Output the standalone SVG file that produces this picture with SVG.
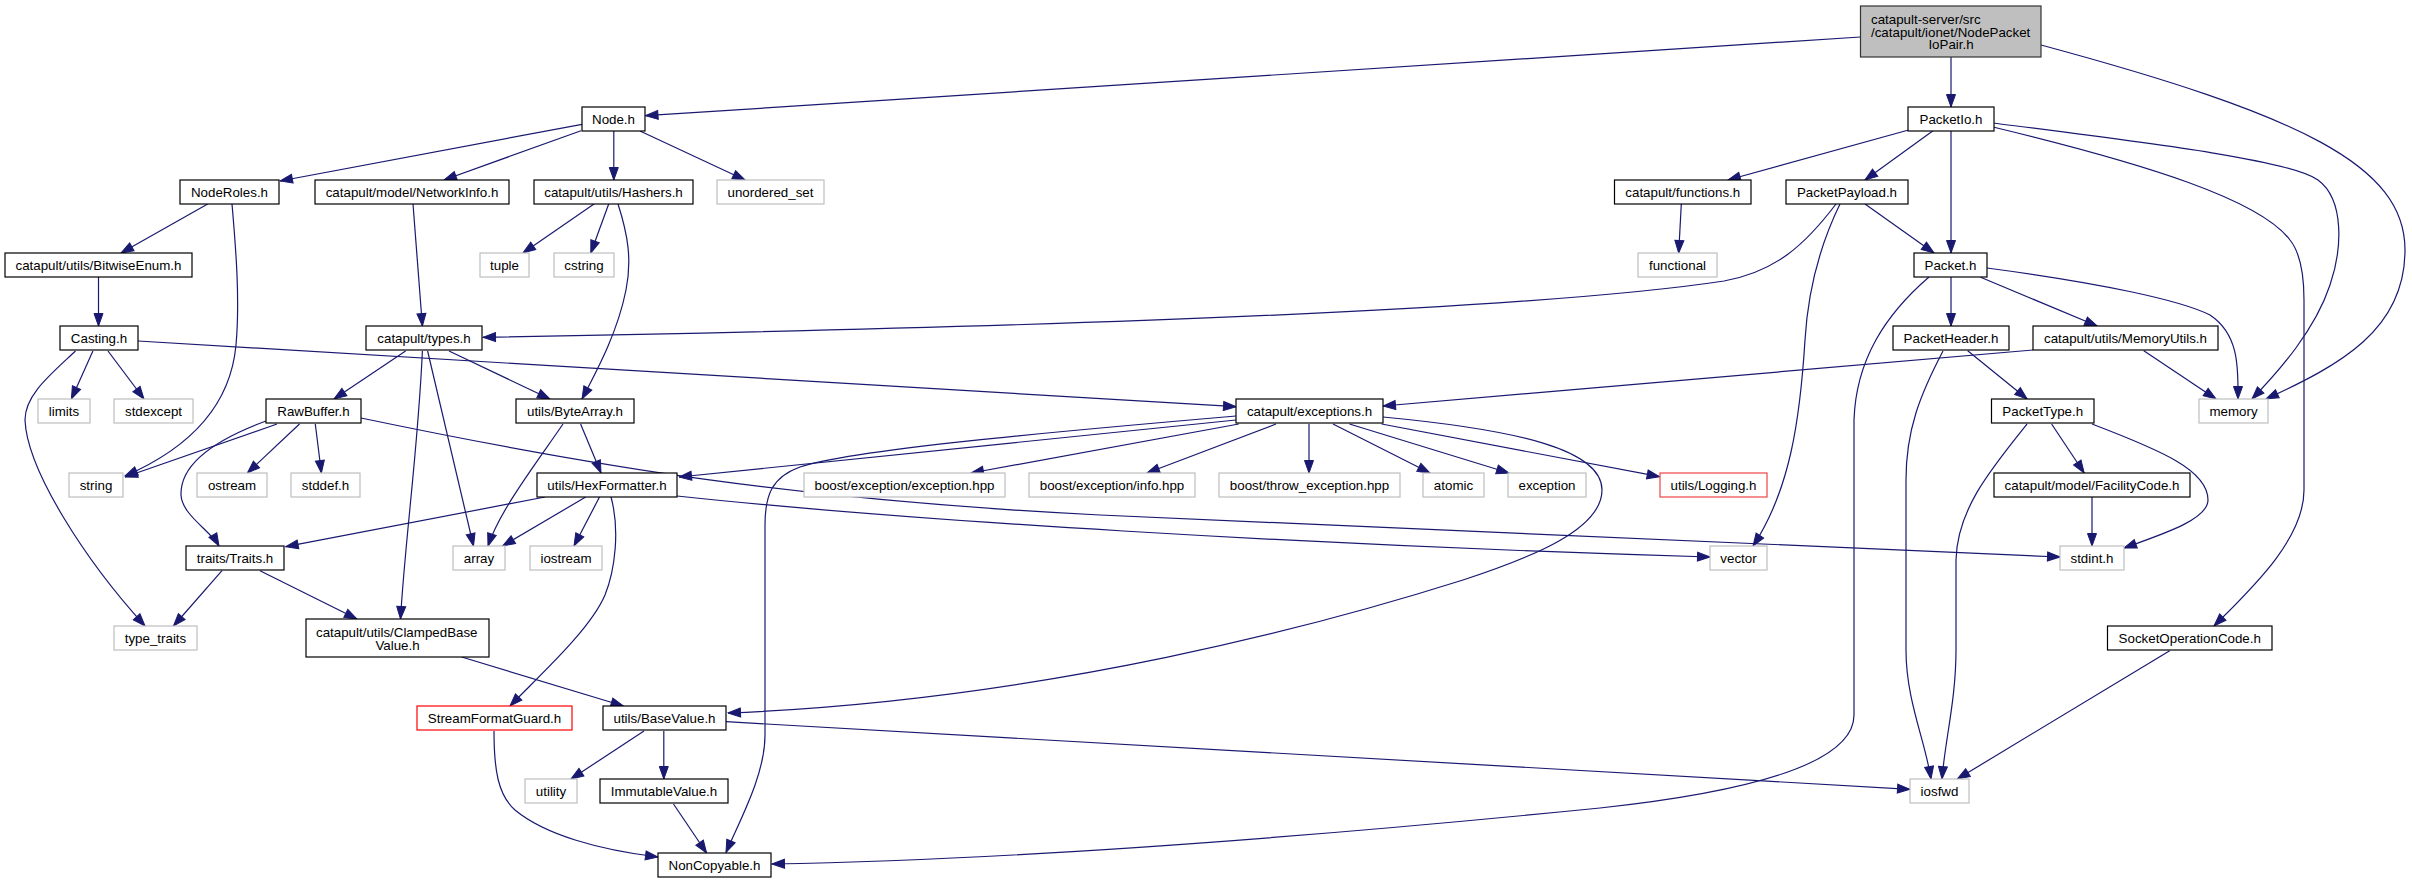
<svg xmlns="http://www.w3.org/2000/svg" width="2412" height="883" viewBox="0 0 2412 883">
<defs>
<marker id="ah" markerUnits="userSpaceOnUse" markerWidth="14" markerHeight="11" viewBox="0 0 14 11" refX="13.5" refY="5.5" orient="auto"><path d="M1,1 L13.5,5.5 L1,10 z" fill="#191970" stroke="#191970" stroke-width="1"/></marker>
</defs>
<style>
rect{fill:#ffffff;stroke:#000000;stroke-width:1.2}
.g rect{stroke:#bfbfbf}
.r rect{stroke:#ff0000}
.rl rect{stroke:#ee4444}
.m rect{fill:#bfbfbf;stroke:#333333}
text{font-family:"Liberation Sans",Arial,Helvetica,sans-serif;font-size:13.33px;fill:#000000;text-anchor:middle}
text.l{text-anchor:start}
#edges path{fill:none;stroke:#191970;stroke-width:1.2;marker-end:url(#ah)}
</style>
<rect x="0" y="0" width="2412" height="883" style="fill:#ffffff;stroke:none"/>
<g id="edges">
<path d="M1860.5,37 L645.5,115.7"/>
<path d="M1951,57 L1951,107"/>
<path d="M2041,45 C2300,115 2405,165 2405,250 C2405,330 2340,365 2266,399"/>
<path d="M582,124.3 L280,181"/>
<path d="M581,130.7 L444,180"/>
<path d="M613.8,130 L613.8,180"/>
<path d="M640,131 L745,180"/>
<path d="M207.7,204 L121,253"/>
<path d="M232,204 C236,250 240,300 236,345 C230,410 185,450 125,476"/>
<path d="M98.5,277 L98.5,326"/>
<path d="M413,204 L422.4,326"/>
<path d="M594,204 L523,253"/>
<path d="M608.7,204 L590.8,253"/>
<path d="M618,204 C628,235 632,260 626,290 C618,330 600,365 582,399"/>
<path d="M138,341 L1236,406.7"/>
<path d="M92.9,351 L71.4,399"/>
<path d="M108,351 L144,399"/>
<path d="M75.5,351 C50,375 25,395 25,420 C27,470 85,560 145,626"/>
<path d="M405.6,351 L334,399"/>
<path d="M449,351 L550,399"/>
<path d="M427.6,351 L473.5,546"/>
<path d="M422.4,351 C418,450 405,540 400.5,619"/>
<path d="M277,424 L125,477"/>
<path d="M299.5,424 L247.4,473"/>
<path d="M315.3,424 L321.4,473"/>
<path d="M266,421 C220,438 180,462 181,495 C182,515 210,530 219,546"/>
<path d="M361,418 C600,468 800,500 1100,515 C1500,535 1800,548 2060,557"/>
<path d="M563,424 C535,465 500,510 488,546"/>
<path d="M580.6,424 L601,473"/>
<path d="M545,497 L285.7,546.7"/>
<path d="M585.7,497 L502.6,546"/>
<path d="M599.5,497 L574,546"/>
<path d="M611,497 C620,530 615,570 605,595 C590,630 540,675 510,706"/>
<path d="M677,496 C900,520 1300,545 1710,557"/>
<path d="M222,570.7 L173.5,626"/>
<path d="M260,570.7 L357,619"/>
<path d="M461.7,657 L623.5,706"/>
<path d="M494,731 C494,770 498,795 515,810 C545,835 600,850 658,857"/>
<path d="M644,731 L571,779"/>
<path d="M663.8,731 L663.8,779"/>
<path d="M726,721.7 L1910,789.3"/>
<path d="M673.5,804 L706.6,853"/>
<path d="M1383,417 C1520,430 1602,450 1602,490 C1602,530 1530,558 1463,580 C1330,622 1050,700 728,713"/>
<path d="M1236,420 L679,477"/>
<path d="M1236,416 C1050,432 850,450 800,467 C772,477 765,495 765,525 L765,735 C765,775 740,820 726,852.5"/>
<path d="M1238.8,424 L971,473"/>
<path d="M1276,424 L1147,473"/>
<path d="M1309,424 L1309,473"/>
<path d="M1333,424 L1430,473"/>
<path d="M1349.5,424 L1509,473"/>
<path d="M1381.6,424 L1659.6,476.7"/>
<path d="M1908.6,130 L1727.9,180"/>
<path d="M1933,130.7 L1865,180"/>
<path d="M1951,130 L1951,253"/>
<path d="M1993,123 C2150,143 2290,160 2318,180 C2345,200 2342,250 2330,285 C2315,330 2280,370 2252,399"/>
<path d="M1993,127 C2150,165 2260,200 2290,240 C2302,255 2304,280 2304,300 L2304,490 C2304,540 2250,590 2214,626"/>
<path d="M1865,204 L1934,253"/>
<path d="M1836,204 C1805,245 1775,272 1724,281 C1500,315 900,330 483,337.3"/>
<path d="M1840,204 C1820,245 1808,290 1805,340 C1800,420 1790,490 1753,546"/>
<path d="M1681.3,204 L1678.7,253"/>
<path d="M1951,277 L1951,326"/>
<path d="M1980.6,277.3 L2097.2,326"/>
<path d="M1987,268 C2100,283 2180,300 2210,315 C2240,335 2238,370 2238,399"/>
<path d="M1929,277 C1885,315 1856,360 1854,420 L1854,715 C1854,770 1720,795 1600,808 C1300,838 1000,860 772,864"/>
<path d="M1967.7,350.7 L2027.2,399"/>
<path d="M1943,351 C1920,395 1906,430 1906,480 L1906,650 C1906,700 1925,740 1931,779"/>
<path d="M2051.6,424 L2084.2,473"/>
<path d="M2092,424 C2160,450 2208,470 2208,500 C2208,520 2160,535 2124,548"/>
<path d="M2027,424 C1990,470 1957,510 1956,560 L1956,650 C1956,700 1945,740 1942,779"/>
<path d="M2092,497 L2092,546"/>
<path d="M2033,350 L1383,406"/>
<path d="M2143.8,350.7 L2216,399"/>
<path d="M2169.7,650.7 L1957.3,779"/>
</g>
<g id="n_main" class="m"><rect x="1860.5" y="6" width="180.5" height="51"/><text class="l" x="1871" y="24">catapult-server/src</text><text class="l" x="1871" y="36.5">/catapult/ionet/NodePacket</text><text x="1951" y="49">IoPair.h</text></g>
<g id="n_node"><rect x="582" y="107" width="63" height="24"/><text x="613.5" y="123.5">Node.h</text></g>
<g id="n_packetio"><rect x="1908" y="107" width="86" height="24"/><text x="1951" y="123.5">PacketIo.h</text></g>
<g id="n_noderoles"><rect x="180" y="180" width="99" height="24"/><text x="229.5" y="196.5">NodeRoles.h</text></g>
<g id="n_networkinfo"><rect x="315" y="180" width="194" height="24"/><text x="412" y="196.5">catapult/model/NetworkInfo.h</text></g>
<g id="n_hashers"><rect x="534" y="180" width="159" height="24"/><text x="613.5" y="196.5">catapult/utils/Hashers.h</text></g>
<g id="n_unordered_set" class="g"><rect x="717" y="180" width="107" height="24"/><text x="770.5" y="196.5">unordered_set</text></g>
<g id="n_functions"><rect x="1614.5" y="180" width="136.5" height="24"/><text x="1682.75" y="196.5">catapult/functions.h</text></g>
<g id="n_packetpayload"><rect x="1786" y="180" width="122" height="24"/><text x="1847" y="196.5">PacketPayload.h</text></g>
<g id="n_bitwiseenum"><rect x="5" y="253" width="187" height="24"/><text x="98.5" y="269.5">catapult/utils/BitwiseEnum.h</text></g>
<g id="n_tuple" class="g"><rect x="480" y="253" width="49" height="24"/><text x="504.5" y="269.5">tuple</text></g>
<g id="n_cstring" class="g"><rect x="554" y="253" width="60" height="24"/><text x="584" y="269.5">cstring</text></g>
<g id="n_functional" class="g"><rect x="1638" y="253" width="79" height="24"/><text x="1677.5" y="269.5">functional</text></g>
<g id="n_packet"><rect x="1914" y="253" width="73" height="24"/><text x="1950.5" y="269.5">Packet.h</text></g>
<g id="n_casting"><rect x="60" y="326" width="78" height="24"/><text x="99" y="342.5">Casting.h</text></g>
<g id="n_types"><rect x="366" y="326" width="116" height="24"/><text x="424" y="342.5">catapult/types.h</text></g>
<g id="n_packetheader"><rect x="1893" y="326" width="116" height="24"/><text x="1951" y="342.5">PacketHeader.h</text></g>
<g id="n_memoryutils"><rect x="2033" y="326" width="185" height="24"/><text x="2125.5" y="342.5">catapult/utils/MemoryUtils.h</text></g>
<g id="n_limits" class="g"><rect x="38" y="399" width="52" height="24"/><text x="64" y="415.5">limits</text></g>
<g id="n_stdexcept" class="g"><rect x="114" y="399" width="79" height="24"/><text x="153.5" y="415.5">stdexcept</text></g>
<g id="n_rawbuffer"><rect x="266" y="399" width="95" height="24"/><text x="313.5" y="415.5">RawBuffer.h</text></g>
<g id="n_bytearray"><rect x="516" y="399" width="118" height="24"/><text x="575" y="415.5">utils/ByteArray.h</text></g>
<g id="n_exceptions"><rect x="1236" y="399" width="147" height="24"/><text x="1309.5" y="415.5">catapult/exceptions.h</text></g>
<g id="n_packettype"><rect x="1991.5" y="399" width="102.5" height="24"/><text x="2042.75" y="415.5">PacketType.h</text></g>
<g id="n_memory" class="g"><rect x="2199" y="399" width="69" height="24"/><text x="2233.5" y="415.5">memory</text></g>
<g id="n_string" class="g"><rect x="69" y="473" width="54" height="24"/><text x="96" y="489.5">string</text></g>
<g id="n_ostream" class="g"><rect x="197" y="473" width="70" height="24"/><text x="232" y="489.5">ostream</text></g>
<g id="n_stddef" class="g"><rect x="291" y="473" width="69" height="24"/><text x="325.5" y="489.5">stddef.h</text></g>
<g id="n_hexformatter"><rect x="537" y="473" width="140" height="24"/><text x="607" y="489.5">utils/HexFormatter.h</text></g>
<g id="n_boost_exception" class="g"><rect x="804" y="473" width="201" height="24"/><text x="904.5" y="489.5">boost/exception/exception.hpp</text></g>
<g id="n_boost_info" class="g"><rect x="1029" y="473" width="166" height="24"/><text x="1112" y="489.5">boost/exception/info.hpp</text></g>
<g id="n_boost_throw" class="g"><rect x="1219" y="473" width="181" height="24"/><text x="1309.5" y="489.5">boost/throw_exception.hpp</text></g>
<g id="n_atomic" class="g"><rect x="1423" y="473" width="61" height="24"/><text x="1453.5" y="489.5">atomic</text></g>
<g id="n_exception" class="g"><rect x="1508" y="473" width="78" height="24"/><text x="1547" y="489.5">exception</text></g>
<g id="n_logging" class="rl"><rect x="1660" y="473" width="107" height="24"/><text x="1713.5" y="489.5">utils/Logging.h</text></g>
<g id="n_facilitycode"><rect x="1994" y="473" width="196" height="24"/><text x="2092" y="489.5">catapult/model/FacilityCode.h</text></g>
<g id="n_traits"><rect x="186" y="546" width="98" height="24"/><text x="235" y="562.5">traits/Traits.h</text></g>
<g id="n_array" class="g"><rect x="453" y="546" width="52" height="24"/><text x="479" y="562.5">array</text></g>
<g id="n_iostream" class="g"><rect x="530" y="546" width="72" height="24"/><text x="566" y="562.5">iostream</text></g>
<g id="n_vector" class="g"><rect x="1710" y="546" width="57" height="24"/><text x="1738.5" y="562.5">vector</text></g>
<g id="n_stdint" class="g"><rect x="2060" y="546" width="64" height="24"/><text x="2092" y="562.5">stdint.h</text></g>
<g id="n_type_traits" class="g"><rect x="114" y="626" width="83" height="24"/><text x="155.5" y="642.5">type_traits</text></g>
<g id="n_clampedbasevalue"><rect x="306" y="619" width="183" height="38"/><text class="l" x="316" y="637">catapult/utils/ClampedBase</text><text x="397.5" y="650">Value.h</text></g>
<g id="n_socketoperationcode"><rect x="2107.5" y="626" width="164.5" height="24"/><text x="2189.75" y="642.5">SocketOperationCode.h</text></g>
<g id="n_streamformatguard" class="r"><rect x="417" y="706" width="155" height="24"/><text x="494.5" y="722.5">StreamFormatGuard.h</text></g>
<g id="n_basevalue"><rect x="603" y="706" width="123" height="24"/><text x="664.5" y="722.5">utils/BaseValue.h</text></g>
<g id="n_utility" class="g"><rect x="525" y="779" width="52" height="24"/><text x="551" y="795.5">utility</text></g>
<g id="n_immutablevalue"><rect x="600" y="779" width="128" height="24"/><text x="664" y="795.5">ImmutableValue.h</text></g>
<g id="n_iosfwd" class="g"><rect x="1910" y="779" width="59" height="24"/><text x="1939.5" y="795.5">iosfwd</text></g>
<g id="n_noncopyable"><rect x="658" y="853" width="113" height="24"/><text x="714.5" y="869.5">NonCopyable.h</text></g>
</svg>
